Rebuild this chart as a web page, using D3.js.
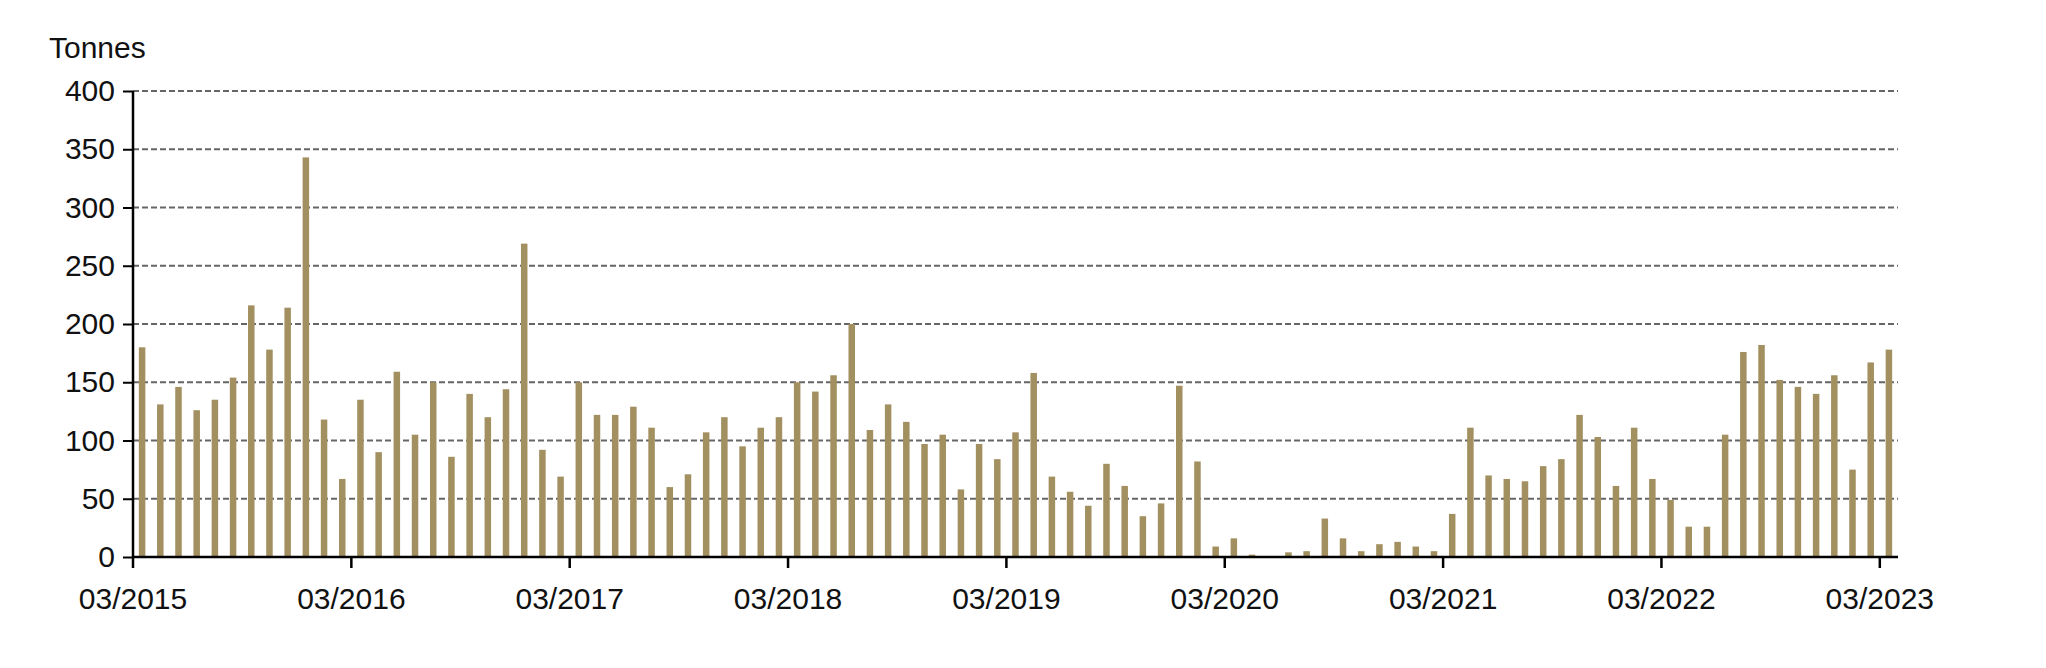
<!DOCTYPE html>
<html><head><meta charset="utf-8">
<script src="https://cdn.jsdelivr.net/npm/d3@7"></script>
<style>body{margin:0;background:#fff}text{font-family:"Liberation Sans",Arial,sans-serif;fill:#111}</style>
</head><body><svg id="c" width="2046" height="668"></svg>
<script>
const years = [2015,2016,2017,2018,2019,2020,2021,2022,2023];
const monthLabels = [];
years.forEach(y=>{for(let m=1;m<=12;m++){ if((y===2015&&m<3)||(y===2023&&m>3)) continue; monthLabels.push(String(m).padStart(2,"0")+"/"+y);}});
const values = [180,131,146,126,135,154,216,178,214,343,118,67,
135,90,159,105,150,86,140,120,144,269,92,69,
150,122,122,129,111,60,71,107,120,95,111,120,
150,142,156,200,109,131,116,97,105,58,97,84,
107,158,69,56,44,80,61,35,46,147,82,9,
16,2,0,4,5,33,16,5,11,13,9,5,
37,111,70,67,65,78,84,122,103,61,111,67,
49,26,26,105,176,182,152,146,140,156,75,167,178];
const yTicks = [0,50,100,150,200,250,300,350,400];
const xTickLabels = years.map(y=>"03/"+y);

const svg = d3.select("#c");
const L=133, R=1898, T=91, B=557;
const x = d3.scaleBand().domain(monthLabels).range([L,R]).padding(0);
const y = d3.scaleLinear().domain([0,400]).range([B,T]);

svg.append("g").selectAll("line").data(yTicks.filter(d=>d>0)).join("line")
  .attr("x1",L).attr("x2",R).attr("y1",d=>y(d)).attr("y2",d=>y(d))
  .attr("stroke","#666").attr("stroke-width",2).attr("stroke-dasharray","6,3");

const bw = 6.5;
svg.append("g").selectAll("rect").data(values).join("rect")
  .attr("x",(d,i)=>x(monthLabels[i])+x.bandwidth()/2-bw/2)
  .attr("width",bw).attr("y",d=>y(d)).attr("height",d=>B-y(d)).attr("fill","#a39060");

const ya = svg.append("g").attr("transform",`translate(${L},0)`)
  .call(d3.axisLeft(y).tickValues(yTicks).tickSize(10).tickPadding(8));
ya.select(".domain").attr("stroke","#000").attr("stroke-width",2.5).attr("d",`M0,${B}V${T}`);
ya.selectAll(".tick line").attr("stroke","#000").attr("stroke-width",2);
ya.selectAll("text").attr("font-size",30).style("fill","#111");

const xa = svg.append("g").attr("transform",`translate(0,${B})`)
  .call(d3.axisBottom(x).tickValues(xTickLabels).tickSize(11).tickPadding(20));
xa.selectAll(".tick").attr("transform",d=>`translate(${x(d)},0)`);
xa.select(".domain").attr("stroke","#000").attr("stroke-width",2.5).attr("d",`M${L},0H${R}`);
xa.selectAll(".tick line").attr("stroke","#000").attr("stroke-width",2.5);
xa.selectAll("text").attr("font-size",30).style("fill","#111");

svg.append("text").attr("x",49).attr("y",58).attr("font-size",30).text("Tonnes");
</script></body></html>
